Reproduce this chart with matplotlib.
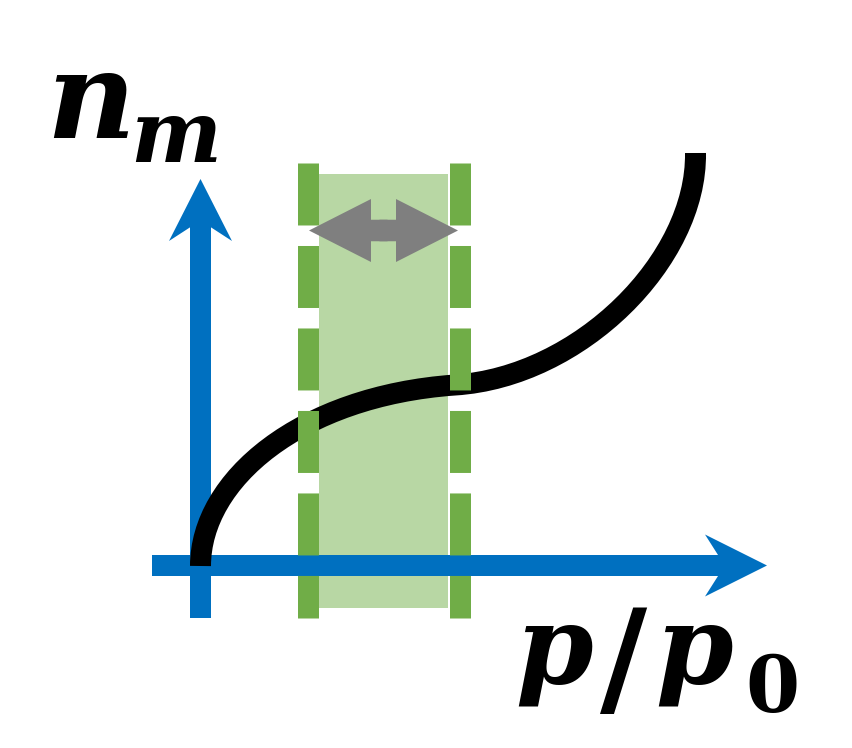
import matplotlib
matplotlib.use("Agg")
import matplotlib.pyplot as plt
from matplotlib.path import Path
from matplotlib.patches import PathPatch, Rectangle

# schematic isotherm: axes, curve (bezier control points), window band
x_axis = [152, 767]          # left end, arrow tip
y_axis = [618, 179]          # bottom end, arrow tip
origin = [200.5, 565.5]

curve_x = [200.5, 200.5, 300, 455, 580, 697, 695.5]
curve_y = [566, 480, 396, 385, 377, 260, 153]
curve_codes = [Path.MOVETO] + [Path.CURVE4] * 6

band_x = [319, 448]
band_y = [174, 608]
dash_x = [308.5, 460.5]
dash_y = [163, 618]
span_center = [383.5, 230.5]
span_half = 74.5

blue = '#0070C0'
green = '#70AD47'
light_green = '#B8D7A4'
grey = '#7F7F7F'

fig = plt.figure(figsize=(8.53, 7.48), dpi=100)
ax = fig.add_axes([0, 0, 1, 1])
ax.set_xlim(0, 853)
ax.set_ylim(748, 0)
ax.set_axis_off()

# shaded window
ax.add_patch(Rectangle((band_x[0], band_y[0]), band_x[1] - band_x[0], band_y[1] - band_y[0],
                       facecolor=light_green, edgecolor='none', zorder=1))

# axes arrows
ax.arrow(origin[0], y_axis[0], 0, y_axis[1] - y_axis[0], width=21, head_width=63, head_length=62,
         overhang=0.22, length_includes_head=True, color=blue, lw=0, zorder=2)
ax.arrow(x_axis[0], origin[1], x_axis[1] - x_axis[0], 0, width=21, head_width=62, head_length=62,
         overhang=0.21, length_includes_head=True, color=blue, lw=0, zorder=2)

# isotherm curve
path = Path(list(zip(curve_x, curve_y)), curve_codes)
ax.add_patch(PathPatch(path, fill=False, edgecolor='black', lw=15.12, capstyle='butt', zorder=3))

# dashed window edges
for xd in dash_x:
    ax.plot([xd, xd], dash_y, color=green, lw=15.12, linestyle=(0, (2.952, 0.976)),
            dash_capstyle='butt', zorder=4)

# double arrow (two halves overlapping a little so no seam shows)
for sgn in (-1, 1):
    ax.arrow(span_center[0] - sgn * 4, span_center[1], sgn * (span_half + 4), 0, width=21.5,
             head_width=63, head_length=62, length_includes_head=True, color=grey, lw=0, zorder=5)

# labels
lab = dict(family='DejaVu Serif', weight='bold', style='italic', va='baseline', ha='left', color='black')
ax.text(46, 138, 'n', fontsize=88, **lab)
ax.text(130, 162, 'm', fontsize=62, **lab)
ax.text(515, 682, 'p', fontsize=80, **lab)
ax.text(600, 702, '/', fontsize=93, family='DejaVu Serif', weight='bold', va='baseline', ha='left')
ax.text(655, 682, 'p', fontsize=80, **lab)
ax.text(745, 712, '0', fontsize=56, family='DejaVu Serif', weight='bold', va='baseline', ha='left')

fig.savefig('out.png', dpi=100)
